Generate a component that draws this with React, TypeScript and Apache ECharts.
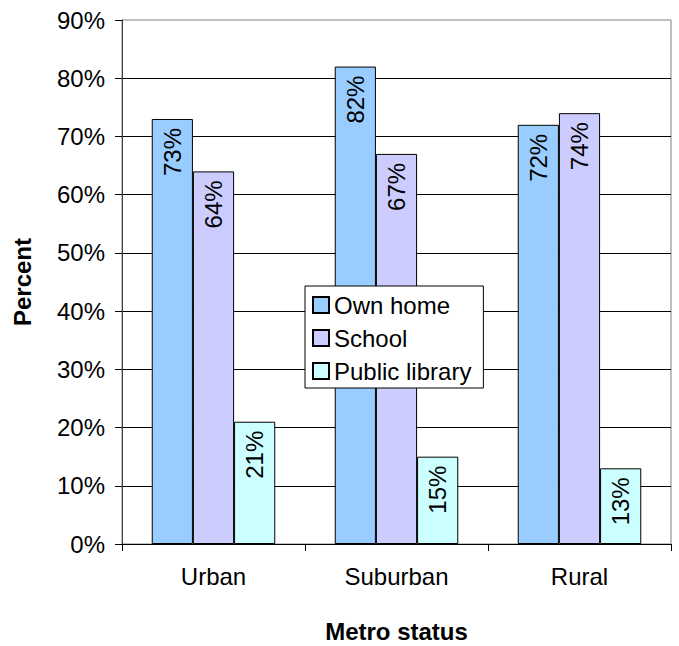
import React, { useEffect, useRef } from "react";
import * as echarts from "echarts";

// Share of students with computer access, by location and metro status
const categories = ["Urban", "Suburban", "Rural"];
const ownHome = [73, 82, 72];
const school = [64, 67, 74];
const publicLibrary = [21, 15, 13];
const yTicks = { min: 0, max: 90, interval: 10 };

const FONT = "'Liberation Sans', Arial, sans-serif";
const FS = 24;

const barLabel = {
  show: true,
  position: "insideTop",
  rotate: 90,
  align: "right",
  verticalAlign: "middle",
  distance: 9,
  formatter: "{c}%",
  color: "#000",
  fontSize: FS,
  fontFamily: FONT,
};

function makeSeries(name: string, data: number[], color: string) {
  return {
    name,
    type: "bar",
    data,
    barGap: "0%",
    barCategoryGap: "32.5%",
    itemStyle: { color, borderColor: "#000", borderWidth: 1 },
    label: barLabel,
    emphasis: { disabled: true },
  };
}

export default function App() {
  const ref = useRef<HTMLDivElement>(null);

  useEffect(() => {
    if (!ref.current) return;
    const chart = echarts.init(ref.current, undefined, { renderer: "svg" });
    chart.setOption({
      animation: false,
      backgroundColor: "#fff",
      textStyle: { fontFamily: FONT },
      grid: {
        left: 122,
        right: 8,
        top: 20,
        bottom: 102,
        outerBoundsMode: "none",
        containLabel: false,
        show: true,
        borderColor: "#808080",
        borderWidth: 1,
      },
      legend: {
        orient: "vertical",
        left: 305,
        top: 286,
        icon: "rect",
        itemWidth: 16,
        itemHeight: 16,
        itemGap: 9,
        padding: [7, 12, 5, 7],
        backgroundColor: "#fff",
        borderColor: "#000",
        borderWidth: 1,
        textStyle: { fontSize: FS, color: "#000", fontFamily: FONT, lineHeight: 22 },
        data: ["Own home", "School", "Public library"],
      },
      xAxis: {
        type: "category",
        data: categories,
        name: "Metro status",
        nameLocation: "middle",
        nameGap: 75,
        nameTextStyle: { fontSize: FS, fontWeight: "bold", color: "#000", fontFamily: FONT, lineHeight: 24 },
        axisLine: { lineStyle: { color: "#000", width: 1 } },
        axisTick: { show: true, length: 7, lineStyle: { color: "#000" } },
        axisLabel: { fontSize: FS, color: "#000", margin: 20, fontFamily: FONT },
      },
      yAxis: {
        type: "value",
        min: yTicks.min,
        max: yTicks.max,
        interval: yTicks.interval,
        name: "Percent",
        nameLocation: "middle",
        nameGap: 88,
        nameTextStyle: { fontSize: FS, fontWeight: "bold", color: "#000", fontFamily: FONT },
        axisLine: { show: true, lineStyle: { color: "#404040", width: 1 } },
        axisTick: { show: true, length: 7, lineStyle: { color: "#000" } },
        axisLabel: { fontSize: FS, color: "#000", margin: 17, formatter: "{value}%", fontFamily: FONT },
        splitLine: { show: true, showMaxLine: false, lineStyle: { color: "#000", width: 1 } },
      },
      series: [
        makeSeries("Own home", ownHome, "#99CCFF"),
        makeSeries("School", school, "#CCCCFF"),
        makeSeries("Public library", publicLibrary, "#CCFFFF"),
      ],
    });
    return () => chart.dispose();
  }, []);

  return (
    <div
      ref={ref}
      style={{ position: "fixed", left: 0, top: 0, width: 679, height: 646, background: "#fff" }}
    />
  );
}
